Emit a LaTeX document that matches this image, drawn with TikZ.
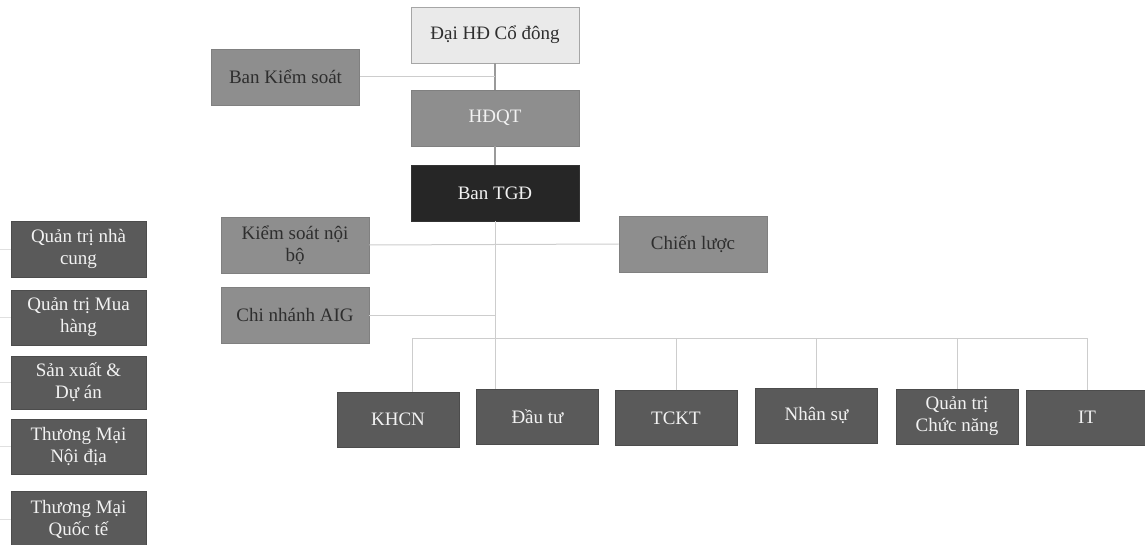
\documentclass[tikz,border=0pt]{standalone}
\usepackage{fontspec}
\setmainfont{Liberation Serif}
\definecolor{lightbox}{HTML}{EAEAEA}
\definecolor{midbox}{HTML}{8E8E8E}
\definecolor{darkbox}{HTML}{5A5A5A}
\definecolor{blackbox}{HTML}{262626}
\definecolor{linegray}{HTML}{CDCDCD}
\definecolor{stubgray}{HTML}{E0E0E0}
\definecolor{trunkgray}{HTML}{9A9A9A}
\definecolor{darktext}{HTML}{2E2E2E}
\definecolor{lighttext}{HTML}{F2F2F2}
\tikzset{
  box/.style={rectangle, inner sep=2pt, align=center, font=\fontsize{19}{22}\selectfont, line width=0.8pt},
  topbox/.style={box, fill=lightbox, draw=black!35, text=darktext, minimum width=168pt, minimum height=56pt},
  midboxs/.style={box, fill=midbox, draw=black!50, text=darktext, minimum width=148pt, minimum height=56pt},
  hdbox/.style={box, fill=midbox, draw=black!50, text=lighttext, minimum width=168pt, minimum height=56pt},
  tgdbox/.style={box, fill=blackbox, draw=black!80, text=lighttext, minimum width=168pt, minimum height=56pt},
  leftbox/.style={box, fill=darkbox, draw=black!70, text=lighttext, minimum width=135pt, minimum height=55pt},
  botbox/.style={box, fill=darkbox, draw=black!70, text=lighttext, minimum width=122pt, minimum height=55pt},
  conn/.style={draw=linegray, line width=1pt},
  stub/.style={draw=stubgray, line width=0.8pt},
  trunk/.style={draw=trunkgray, line width=1.2pt},
}
\begin{document}
\begin{tikzpicture}[x=1pt,y=-1pt]
\useasboundingbox (0,0) rectangle (1145,545);
\clip (0,0) rectangle (1145,545);
% top chain
\node[topbox] (dhcd) at (495,35) {Đại HĐ Cổ đông};
\node[hdbox] (hdqt) at (495,118) {HĐQT};
\node[tgdbox] (tgd) at (495,193) {Ban TGĐ};
\node[midboxs] (bks) at (285.5,77) {Ban Kiểm soát};
\node[midboxs] (ksnb) at (295,245) {Kiểm soát nội\\bộ};
\node[midboxs] (cnaig) at (295,315) {Chi nhánh AIG};
\node[midboxs] (cl) at (693,244) {Chiến lược};
% left column
\node[leftbox, minimum height=56pt] (l1) at (78.5,249) {Quản trị nhà\\cung};
\node[leftbox] (l2) at (78.5,317.5) {Quản trị Mua\\hàng};
\node[leftbox, minimum height=53pt] (l3) at (78.5,382.5) {Sản xuất \&\\Dự án};
\node[leftbox] (l4) at (78.5,446.5) {Thương Mại\\Nội địa};
\node[leftbox, minimum height=56pt] (l5) at (78.5,519) {Thương Mại\\Quốc tế};
% bottom row
\node[botbox] (khcn) at (398,419.5) {KHCN};
\node[botbox] (dautu) at (537.5,416.5) {Đầu tư};
\node[botbox] (tckt) at (676,418) {TCKT};
\node[botbox] (nhansu) at (816.5,415.5) {Nhân sự};
\node[botbox] (qtcn) at (957,416.5) {Quản trị\\Chức năng};
\node[botbox] (it) at (1087,417.5) {IT};
% connectors
\draw[trunk] (dhcd.south) -- (hdqt.north);
\draw[trunk] (hdqt.south) -- (tgd.north);
\draw[conn] (bks.east) -- (bks.east -| dhcd.south);
\draw[conn] (tgd.south) -- (tgd.south |- dautu.north);
\draw[conn] (ksnb.east) -- (cl.west);
\draw[conn] (cnaig.east) -- (cnaig.east -| tgd.south);
\coordinate (busL) at (412,338);
\coordinate (busR) at (1087,338);
\draw[conn] (busL) -- (busR);
\draw[conn] (busL) -- (busL |- khcn.north);
\draw[conn] (tckt.north) -- (tckt.north |- busL);
\draw[conn] (nhansu.north) -- (nhansu.north |- busL);
\draw[conn] (qtcn.north) -- (qtcn.north |- busL);
\draw[conn] (it.north) -- (busR);
% left stubs
\coordinate (lx) at (0,0);
\foreach \n in {l1,l2,l3,l4,l5} {
  \draw[stub] (\n.west) -- (\n.west -| lx);
}
\end{tikzpicture}
\end{document}
